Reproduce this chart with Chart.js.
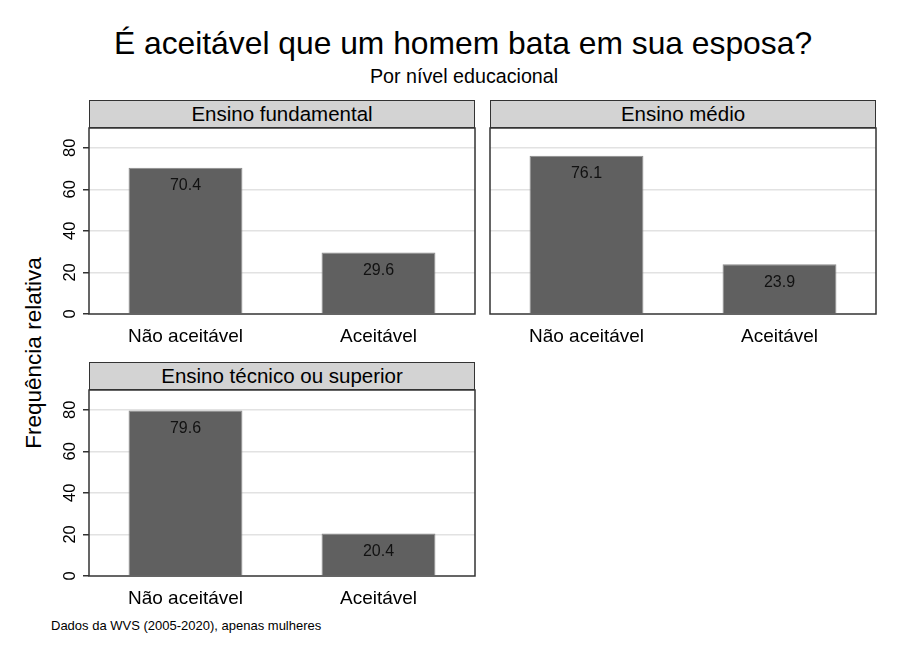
<!DOCTYPE html>
<html>
<head>
<meta charset="utf-8">
<script src="https://cdn.jsdelivr.net/npm/chart.js@4/dist/chart.umd.min.js"></script>
<style>
  body { margin: 0; background: #fff; font-family: "Liberation Sans", Arial, sans-serif; }
  #wrap { position: relative; width: 907px; height: 660px; overflow: hidden; }
  .txt { position: absolute; white-space: nowrap; color: #000; }
  .strip { position: absolute; box-sizing: border-box; height: 28px; width: 386px;
           background: #d3d3d3; border: 1.5px solid #333; text-align: center;
           font-size: 20.5px; line-height: 25px; z-index: 2; }
  canvas { position: absolute; }
</style>
</head>
<body>
<div id="wrap">
  <div class="txt" style="left:0;width:926px;text-align:center;top:25px;font-size:31.8px;">É aceitável que um homem bata em sua esposa?</div>
  <div class="txt" style="left:0;width:928px;text-align:center;top:65px;font-size:19.7px;">Por nível educacional</div>
  <div class="txt" style="left:34px;top:353px;font-size:22.5px;transform:translate(-50%,-50%) rotate(-90deg);">Frequência relativa</div>
  <div class="txt" style="left:51px;top:618px;font-size:13px;">Dados da WVS (2005-2020), apenas mulheres</div>

  <div class="strip" style="left:89px;top:100px;">Ensino fundamental</div>
  <div class="strip" style="left:490px;top:100px;">Ensino médio</div>
  <div class="strip" style="left:89px;top:362px;">Ensino técnico ou superior</div>

  <canvas id="c1" width="442" height="254" style="left:39px;top:100px;"></canvas>
  <canvas id="c2" width="442" height="254" style="left:440px;top:100px;"></canvas>
  <canvas id="c3" width="442" height="254" style="left:39px;top:362px;"></canvas>
</div>
<script>
const categories = ["Não aceitável", "Aceitável"];
const fundamental = [70.4, 29.6];
const medio = [76.1, 23.9];
const tecnico = [79.6, 20.4];
const yTicks = [0, 20, 40, 60, 80];
const yMax = 89.5;

const FONT = '"Liberation Sans", Arial, sans-serif';

// box around the plot area, value labels and rotated y tick labels
const panelPlugin = {
    id: 'panelPlugin',
    afterDatasetsDraw(chart, args, opts) {
        const ctx = chart.ctx;
        const a = chart.chartArea;
        ctx.save();
        // value labels inside the top of each bar
        ctx.font = '16px ' + FONT;
        ctx.fillStyle = '#111';
        ctx.textAlign = 'center';
        ctx.textBaseline = 'middle';
        const meta = chart.getDatasetMeta(0);
        meta.data.forEach((bar, i) => {
            const v = chart.data.datasets[0].data[i];
            ctx.fillText(v.toFixed(1), bar.x, bar.y + 18);
        });
        // frame
        ctx.strokeStyle = '#333';
        ctx.lineWidth = 1.5;
        ctx.strokeRect(a.left, a.top, a.right - a.left, a.bottom - a.top);
        // rotated tick labels
        if (opts.showLabels) {
            const ys = chart.scales.y;
            ctx.font = '16.5px ' + FONT;
            ctx.fillStyle = '#000';
            yTicks.forEach(t => {
                const py = ys.getPixelForValue(t);
                ctx.save();
                ctx.translate(a.left - 19, py);
                ctx.rotate(-Math.PI / 2);
                ctx.fillText(String(t), 0, 0);
                ctx.restore();
            });
        }
        ctx.restore();
    }
};

function makePanel(id, values, showLabels) {
    return new Chart(document.getElementById(id), {
        type: 'bar',
        data: {
            labels: categories,
            datasets: [{
                data: values,
                backgroundColor: '#606060',
                borderColor: '#8a8a8a',
                borderWidth: 1,
                barPercentage: 0.59,
                categoryPercentage: 1.0
            }]
        },
        options: {
            responsive: false,
            animation: false,
            layout: { padding: { top: 28, right: 6, left: 0, bottom: 0 } },
            plugins: {
                legend: { display: false },
                tooltip: { enabled: false },
                panelPlugin: { showLabels: showLabels }
            },
            scales: {
                x: {
                    grid: { display: false, drawTicks: false },
                    border: { display: false },
                    ticks: { color: '#000', font: { family: FONT, size: 19 }, padding: 11, maxRotation: 0 },
                    afterFit(scale) { scale.height = 40; }
                },
                y: {
                    min: 0,
                    max: yMax,
                    afterBuildTicks(scale) { scale.ticks = yTicks.map(v => ({ value: v })); },
                    grid: {
                        color: ctx => ctx.tick && ctx.tick.value === 0 ? 'rgba(0,0,0,0)' : '#e2e2e2',
                        lineWidth: 1.5,
                        drawTicks: showLabels,
                        tickLength: 6,
                        tickColor: '#333',
                        tickWidth: 1.5
                    },
                    border: { display: false },
                    ticks: { display: false },
                    afterFit(scale) { scale.width = 50; }
                }
            }
        },
        plugins: [panelPlugin]
    });
}

makePanel('c1', fundamental, true);
makePanel('c2', medio, false);
makePanel('c3', tecnico, true);
</script>
</body>
</html>
